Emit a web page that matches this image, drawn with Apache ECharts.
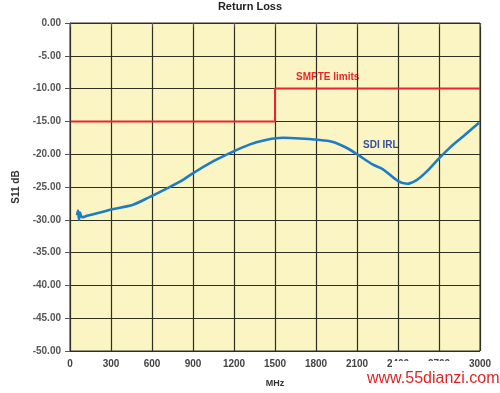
<!DOCTYPE html>
<html><head><meta charset="utf-8">
<script src="https://cdn.jsdelivr.net/npm/echarts@6/dist/echarts.min.js"></script>
<style>html,body{margin:0;padding:0;background:#fff}#c{width:500px;height:393px}</style>
</head><body><div id="c"></div>
<script>
var xTicks = [0,300,600,900,1200,1500,1800,2100,2400,2700,3000];
var yTicks = [0,-5,-10,-15,-20,-25,-30,-35,-40,-45,-50];
var limitMHz = [5,1500,1500,3000];
var limitDb  = [-15,-15,-10,-10];
var irlMHz = [51,59,66,73,88,124,220,307,461,585,710,827,900,1046,1193,1317,1441,1559,1683,1807,1917,2012,2100,2217,2290,2400,2466,2539,2612,2693,2780,2876,2993];
var irlDb  = [-29.3,-28.6,-30.0,-28.9,-29.6,-29.4,-28.9,-28.4,-27.7,-26.5,-25.2,-23.9,-22.9,-21.1,-19.6,-18.5,-17.8,-17.5,-17.6,-17.8,-18.1,-18.9,-20.0,-21.6,-22.3,-24.1,-24.5,-23.9,-22.6,-20.8,-19.0,-17.3,-15.2];

var pair = function(a,b){return a.map(function(v,i){return [v,b[i]];});};
var FONT = '"Liberation Sans Narrow", "Liberation Sans", Arial, sans-serif';
var chart = echarts.init(document.getElementById('c'), null, {renderer:'canvas'});
chart.setOption({
  animation:false,
  backgroundColor:'#ffffff',
  textStyle:{fontFamily:FONT},
  title:{text:'Return Loss', left:'center', top:-4, textStyle:{fontSize:11, fontWeight:'bold', color:'#222', fontFamily:FONT}},
  grid:{left:70, right:20, top:23, bottom:41, show:true, backgroundColor:'#FBF5C3', borderColor:'#2f2f22', borderWidth:1},
  xAxis:{type:'value', min:xTicks[0], max:xTicks[xTicks.length-1], interval:300,
    name:'MHz', nameLocation:'middle', nameGap:28,
    nameTextStyle:{fontSize:9, fontWeight:'bold', color:'#333', fontFamily:FONT},
    axisLine:{show:true, lineStyle:{color:'#2f2f22', width:1}},
    axisTick:{show:true, length:4, lineStyle:{color:'#555'}},
    axisLabel:{fontSize:10, fontWeight:'bold', color:'#444', margin:8, fontFamily:FONT,
      formatter:function(v){return String(v);}},
    splitLine:{show:true, lineStyle:{color:'#2f2f22', width:1.2}}},
  yAxis:{type:'value', min:yTicks[yTicks.length-1], max:yTicks[0], interval:5,
    name:'S11 dB', nameLocation:'middle', nameGap:42, nameRotate:90,
    nameTextStyle:{fontSize:10, fontWeight:'bold', color:'#333', fontFamily:FONT},
    axisLine:{show:true, lineStyle:{color:'#2f2f22', width:1}},
    axisTick:{show:true, length:5, lineStyle:{color:'#555'}},
    axisLabel:{fontSize:10, fontWeight:'bold', color:'#555', margin:9, fontFamily:FONT,
      formatter:function(v){return v.toFixed(2);}},
    splitLine:{show:true, lineStyle:{color:'#2f2f22', width:1.2}}},
  series:[
    {type:'line', name:'SMPTE limits', data:pair(limitMHz,limitDb), symbol:'none',
     lineStyle:{color:'#E8262E', width:2}, z:3},
    {type:'line', name:'SDI IRL', data:pair(irlMHz,irlDb), symbol:'none', smooth:0.3,
     lineStyle:{color:'#1E7BC6', width:2.6}, z:4}
  ],
  graphic:[
    {type:'text', left:296, top:72, style:{text:'SMPTE limits', fill:'#E8262E', font:'bold 10px '+FONT}},
    {type:'text', left:363, top:140, style:{text:'SDI IRL', fill:'#35509E', font:'bold 10px '+FONT}},
    {type:'rect', zlevel:1, shape:{x:392, y:361, width:76, height:32}, style:{fill:'#ffffff'}},
    {type:'text', zlevel:1, left:367, top:371, style:{text:'www.55dianzi.com', fill:'#E02424', font:'16px "Liberation Sans", Arial, sans-serif'}}
  ]
});
</script></body></html>
